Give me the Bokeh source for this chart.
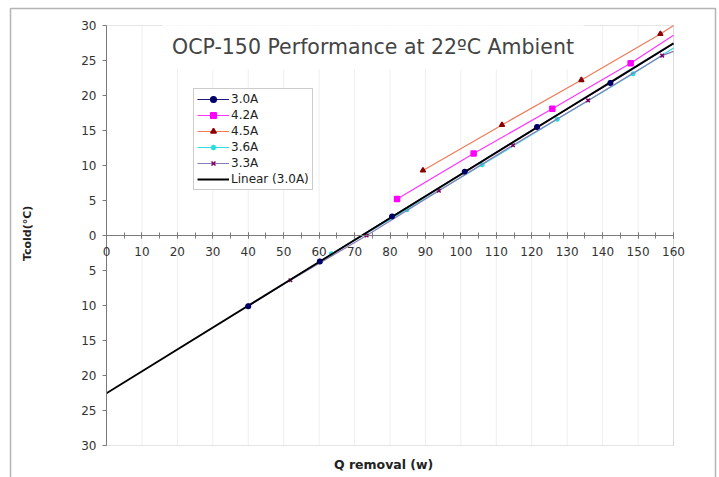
import numpy as np
from bokeh.plotting import figure
from bokeh.models import (Label, LabelSet, Legend, LegendItem, SingleIntervalTicker,
                          FixedTicker, CustomJSTickFormatter, Range1d,
                          ColumnDataSource, BoxAnnotation)
from bokeh.core.properties import value
from bokeh.embed import file_html
from bokeh.resources import INLINE

# ---- data ----
x_30 = [40.0, 60.2, 80.6, 101.1, 121.5, 142.2]
y_30 = [-10.1, -3.7, 2.7, 9.1, 15.5, 21.8]

x_42 = [82.0, 103.6, 125.8, 147.9]
y_42 = [5.2, 11.7, 18.1, 24.6]

x_45 = [89.3, 111.6, 134.0, 156.3]
y_45 = [9.3, 15.8, 22.2, 28.8]

x_36 = [63.5, 84.8, 106.0, 127.2, 148.6]
y_36 = [-2.6, 3.7, 10.1, 16.6, 23.1]

x_33 = [51.9, 73.4, 93.8, 114.7, 135.9, 156.8]
y_33 = [-6.4, 0.0, 6.4, 12.9, 19.3, 25.7]

# where each series' connecting line ends at the right edge (x = 160)
line_end_x = 160
line_end_y = {"3.0A": 27.4, "4.2A": 28.6, "4.5A": 30.0, "3.6A": 26.8, "3.3A": 26.3}

x_min, x_max = 0, 160
y_min, y_max = -30, 30
x_ticks = list(range(0, 161, 10))
x_tick_labels = [str(t) for t in x_ticks]
y_ticks = list(range(-30, 31, 5))
y_tick_labels = [str(abs(t)) for t in y_ticks]

FONT = "DejaVu Sans"

# ---- layout (pixels) ----
W = 719
fl, ft, fr, fb = 10, 8, 715, 481          # frame = outer chart border
pl, pt, pr, pb = 106, 25, 673, 445         # plot area
sx = (pr - pl) / (x_max - x_min)
sy = (pb - pt) / (y_max - y_min)
xr = Range1d(x_min - (pl - fl) / sx, x_max + (fr - pr) / sx)
yr = Range1d(y_min - (fb - pb) / sy, y_max + (pt - ft) / sy)

p = figure(frame_width=fr - fl, frame_height=fb - ft, x_range=xr, y_range=yr,
           output_backend="svg", toolbar_location=None,
           min_border_left=fl, min_border_top=ft, min_border_right=W - fr,
           min_border_bottom=0)
p.background_fill_color = "white"
p.border_fill_color = "white"
p.outline_line_color = "#b4b4b4"
p.outline_line_width = 1.5
p.xgrid.grid_line_color = None
p.ygrid.grid_line_color = None

blank = CustomJSTickFormatter(code="return '';")

# x axis crossing at y = 0
p.xaxis.fixed_location = 0
p.xaxis.bounds = (x_min, x_max)
p.xaxis.ticker = SingleIntervalTicker(interval=10, num_minor_ticks=2)
p.xaxis.formatter = blank
p.xaxis.major_label_text_font_size = "1px"
p.xaxis.major_label_standoff = 0
p.xaxis.major_tick_in = 3
p.xaxis.major_tick_out = 3
p.xaxis.minor_tick_in = 3
p.xaxis.minor_tick_out = 3
p.xaxis.axis_line_color = "#7a7a7a"
p.xaxis.major_tick_line_color = "#7a7a7a"
p.xaxis.minor_tick_line_color = "#7a7a7a"

# y axis at x = 0
p.yaxis.fixed_location = 0
p.yaxis.bounds = (y_min, y_max)
p.yaxis.ticker = FixedTicker(ticks=y_ticks)
p.yaxis.formatter = blank
p.yaxis.major_label_text_font_size = "1px"
p.yaxis.major_label_standoff = 0
p.yaxis.major_tick_in = 0
p.yaxis.major_tick_out = 4
p.yaxis.minor_tick_line_color = None
p.yaxis.axis_line_color = "#7a7a7a"
p.yaxis.major_tick_line_color = "#7a7a7a"

# plot-area border
p.add_layout(BoxAnnotation(left=x_min, right=x_max, bottom=y_min, top=y_max,
                           fill_color=None, line_color="#a8a8a8", line_width=1,
                           level="underlay"))

# faint vertical grid lines
p.segment(x0=x_ticks, y0=[y_min] * len(x_ticks), x1=x_ticks, y1=[y_max] * len(x_ticks),
          line_color="#efefef", line_width=1, level="underlay")

# tick labels
xsrc = ColumnDataSource(dict(x=x_ticks, y=[0] * len(x_ticks), t=x_tick_labels))
p.add_layout(LabelSet(x="x", y="y", text="t", source=xsrc, y_offset=-16,
                      text_align="center", text_baseline="middle",
                      text_font=value(FONT), text_font_size="12px",
                      text_color="#333333"))
ysrc = ColumnDataSource(dict(x=[0] * len(y_ticks), y=y_ticks, t=y_tick_labels))
p.add_layout(LabelSet(x="x", y="y", text="t", source=ysrc, x_offset=-10,
                      text_align="right", text_baseline="middle",
                      text_font=value(FONT), text_font_size="12px",
                      text_color="#333333"))

# series
series = [
    ("3.0A", x_30, y_30, "#1a1a7a", "#000066", "circle", 4.5),
    ("4.2A", x_42, y_42, "#ff33ff", "#ff00ff", "square", 5),
    ("4.5A", x_45, y_45, "#f07a5a", "#8b0000", "triangle", 5),
    ("3.6A", x_36, y_36, "#33dddd", "#22dddd", "asterisk", 5),
    ("3.3A", x_33, y_33, "#8a7ab8", "#800060", "x", 5),
]

items = []
for name, xs, ys, lc, mc, marker, sz in series:
    lx = list(xs) + [line_end_x]
    ly = list(ys) + [line_end_y[name]]
    r1 = p.line(lx, ly, line_color=lc, line_width=1.2)
    r2 = p.scatter(xs, ys, marker=marker, size=sz, fill_color=mc,
                   line_color=mc, line_width=1.5)
    items.append(LegendItem(label=name, renderers=[r1, r2]))

# linear trend of the 3.0A series
coef = np.polyfit(x_30, y_30, 1)
tx = np.array([float(x_min), float(x_max)])
ty = np.polyval(coef, tx)
rt = p.line(tx, ty, line_color="black", line_width=1.8)

# 3.0A markers above the trend line
p.scatter(x_30, y_30, marker="circle", size=4.5, fill_color="#000066",
          line_color="#000066")
items.append(LegendItem(label="Linear (3.0A)", renderers=[rt]))

legend = Legend(items=items, location=(193 - fl, fb - 190))
legend.label_text_font = FONT
legend.label_text_font_size = "12px"
legend.label_text_color = "#222222"
legend.label_height = 14
legend.glyph_height = 14
legend.glyph_width = 32
legend.spacing = 2
legend.padding = 3
legend.margin = 0
legend.label_standoff = 2
legend.border_line_color = "#999999"
legend.border_line_width = 1
legend.background_fill_color = "white"
legend.background_fill_alpha = 1
p.add_layout(legend)

title = Label(x=75.2, y=26.9, text="OCP-150 Performance at 22\u00baC Ambient",
              text_align="center", text_baseline="middle",
              text_font=FONT, text_font_size="20.5px", text_color="#444444",
              background_fill_color="white", padding=10)
p.add_layout(title)

xlabel = Label(x=78.2, y=-32.7, text="Q removal (w)", text_align="center",
               text_baseline="middle", text_font=FONT, text_font_size="12.5px",
               text_font_style="bold", text_color="#222222")
p.add_layout(xlabel)

ylabel = Label(x=-22.3, y=0.3, text="Tcold(\u00b0C)", text_align="center",
               text_baseline="middle", angle=np.pi / 2,
               text_font=FONT, text_font_size="11px",
               text_font_style="bold", text_color="#222222")
p.add_layout(ylabel)

open("out.html", "w").write(file_html(p, INLINE))
